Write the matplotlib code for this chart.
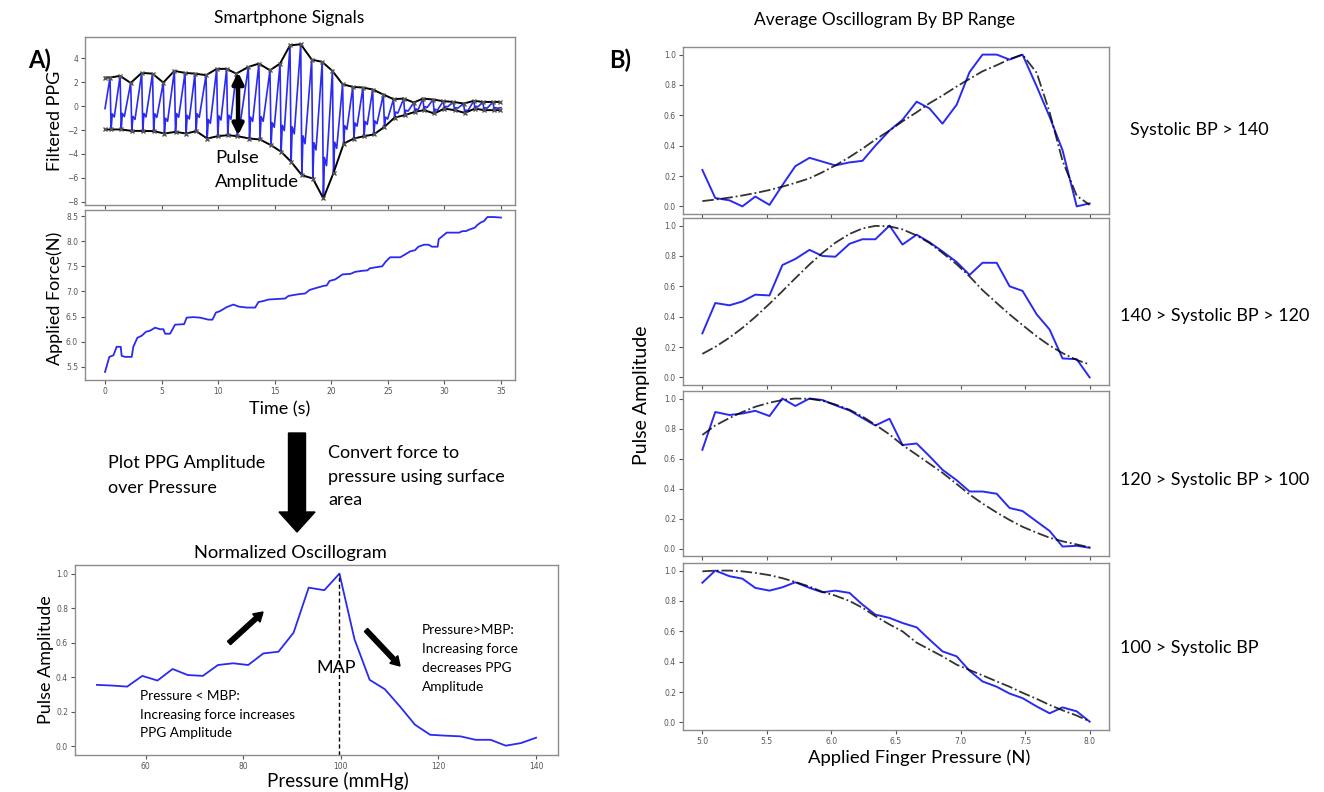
import numpy as np
import matplotlib
matplotlib.use("Agg")
import matplotlib.pyplot as plt
from matplotlib.patches import FancyArrow

# ---------------- DATA ----------------
# Panel A top: filtered PPG, read per beat (peak time, upper envelope, lower envelope)
BEAT_T = [0.44, 1.33, 2.27, 3.24, 4.2, 5.15, 6.13, 7.07, 7.95, 8.93, 9.87, 10.75, 11.6,
          12.67, 13.6, 14.58, 15.47, 16.35, 17.3, 18.27, 19.2, 20.1, 21.0, 21.9, 22.8,
          23.66, 24.6, 25.5, 26.4, 27.3, 28.1, 29.0, 29.9, 30.8, 31.7, 32.6, 33.4, 34.3]
PPG_UPPER = [2.4, 2.54, 1.95, 2.79, 2.73, 1.98, 2.96, 2.79, 2.73, 2.6, 3.13, 3.13, 2.73,
             3.29, 3.57, 3.01, 3.57, 5.1, 5.19, 3.91, 3.71, 2.96, 1.84, 1.62, 1.56,
             1.40, 0.98, 0.59, 0.64, 0.31, 0.64, 0.56, 0.42, 0.36, 0.22, 0.45, 0.36, 0.36]
PPG_LOWER = [-1.95, -1.95, -2.07, -2.07, -2.09, -2.29, -2.15, -2.29, -2.09, -2.71, -2.51,
             -2.43, -2.51, -2.71, -2.79, -3.27, -3.82, -4.66, -5.78, -6.06, -7.73, -5.58,
             -3.13, -2.71, -2.51, -2.37, -1.73, -0.95, -0.75, -0.47, -0.33, -0.61, -0.2,
             -0.33, -0.56, -0.2, -0.33, -0.33]
PPG_START = -0.2

# Panel A middle: applied force vs time
FORCE_T = [0, 0.38, 0.74, 1.03, 1.39, 1.47, 1.77, 2.36, 2.5, 2.86, 3.24, 3.63, 3.98, 4.42,
           4.87, 5.16, 5.31, 5.75, 6.19, 6.99, 7.22, 7.81, 8.4, 9.14, 9.5, 9.8, 10.17,
           10.76, 11.35, 11.8, 12.53, 13.27, 13.56, 14.0, 14.45, 15.18, 15.92, 16.2, 16.67,
           17.25, 17.69, 18.08, 18.67, 19.3, 19.6, 19.85, 20.35, 21.0, 21.7, 22.1, 22.7,
           23.2, 23.4, 23.9, 24.5, 24.8, 25.2, 26.1, 26.7, 27.0, 27.4, 27.7, 28.2, 28.6,
           28.9, 29.4, 29.5, 29.93, 30.2, 31.3, 31.6, 31.9, 32.2, 32.7, 32.9, 33.2, 33.5,
           33.8, 34.35, 35.0]
FORCE_N = [5.40, 5.70, 5.73, 5.90, 5.90, 5.72, 5.70, 5.70, 5.90, 6.08, 6.12, 6.20, 6.22,
           6.28, 6.25, 6.25, 6.16, 6.16, 6.34, 6.35, 6.48, 6.49, 6.48, 6.44, 6.44, 6.58,
           6.61, 6.69, 6.74, 6.70, 6.68, 6.68, 6.79, 6.81, 6.84, 6.85, 6.86, 6.91, 6.93,
           6.95, 6.96, 7.03, 7.07, 7.11, 7.12, 7.21, 7.24, 7.34, 7.35, 7.39, 7.41, 7.42,
           7.46, 7.48, 7.50, 7.59, 7.68, 7.68, 7.76, 7.80, 7.82, 7.89, 7.93, 7.93, 7.89,
           7.89, 8.04, 8.12, 8.17, 8.17, 8.20, 8.20, 8.23, 8.27, 8.32, 8.37, 8.40, 8.48,
           8.48, 8.47]

# Panel A bottom: normalized oscillogram
PRESSURE_MMHG = [50.0, 53.1, 56.2, 59.3, 62.4, 65.5, 68.6, 71.7, 74.8, 77.9, 81.0, 84.1,
                 87.2, 90.3, 93.4, 96.6, 99.7, 102.8, 105.9, 109.0, 112.1, 115.2, 118.3,
                 121.4, 124.5, 127.6, 130.7, 133.8, 136.9, 140.0]
OSC_AMP = [0.356, 0.352, 0.346, 0.408, 0.381, 0.448, 0.413, 0.408, 0.471, 0.481, 0.471,
           0.538, 0.548, 0.658, 0.919, 0.904, 1.0, 0.619, 0.385, 0.331, 0.231, 0.125,
           0.067, 0.062, 0.058, 0.038, 0.038, 0.004, 0.019, 0.05]

# Panel B: average oscillograms by BP range
FINGER_P = [5.00, 5.10, 5.21, 5.31, 5.41, 5.52, 5.62, 5.72, 5.83, 5.93, 6.03, 6.14, 6.24,
            6.34, 6.45, 6.55, 6.66, 6.76, 6.86, 6.97, 7.07, 7.17, 7.28, 7.38, 7.48, 7.59,
            7.69, 7.79, 7.90, 8.00]
BP_LABELS = ["Systolic BP > 140", "140 > Systolic BP > 120",
             "120 > Systolic BP > 100", "100 > Systolic BP"]
AVG_GT140 = [0.24, 0.055, 0.04, 0.0, 0.065, 0.01, 0.14, 0.265, 0.32, 0.295, 0.27, 0.29,
             0.30, 0.40, 0.50, 0.57, 0.69, 0.645, 0.545, 0.67, 0.885, 1.0, 1.0, 0.967,
             1.0, 0.79, 0.59, 0.37, 0.0, 0.02]
FIT_GT140 = [0.035, 0.045, 0.058, 0.072, 0.088, 0.108, 0.13, 0.155, 0.185, 0.225, 0.27,
             0.325, 0.38, 0.44, 0.50, 0.56, 0.62, 0.68, 0.73, 0.79, 0.84, 0.89, 0.93,
             0.97, 1.0, 0.88, 0.62, 0.30, 0.07, 0.01]
AVG_120_140 = [0.29, 0.49, 0.475, 0.50, 0.545, 0.54, 0.74, 0.78, 0.84, 0.80, 0.795, 0.88,
               0.91, 0.91, 1.0, 0.875, 0.94, 0.89, 0.83, 0.76, 0.675, 0.755, 0.755, 0.60,
               0.57, 0.415, 0.315, 0.125, 0.12, 0.0]
FIT_120_140 = [0.155, 0.201, 0.262, 0.326, 0.398, 0.485, 0.568, 0.653, 0.744, 0.820,
               0.887, 0.945, 0.981, 0.998, 0.995, 0.975, 0.935, 0.885, 0.82, 0.745,
               0.665, 0.575, 0.49, 0.415, 0.345, 0.27, 0.21, 0.16, 0.115, 0.085]
AVG_100_120 = [0.658, 0.91, 0.89, 0.90, 0.918, 0.883, 1.0, 0.95, 1.0, 0.99, 0.955, 0.92,
               0.87, 0.82, 0.865, 0.69, 0.70, 0.615, 0.525, 0.455, 0.38, 0.38, 0.365,
               0.27, 0.25, 0.18, 0.117, 0.013, 0.018, 0.005]
FIT_100_120 = [0.757, 0.82, 0.87, 0.91, 0.945, 0.972, 0.99, 1.0, 0.998, 0.985, 0.96,
               0.925, 0.88, 0.825, 0.76, 0.69, 0.625, 0.565, 0.505, 0.43, 0.36, 0.30,
               0.24, 0.19, 0.145, 0.105, 0.072, 0.048, 0.027, 0.008]
AVG_LT100 = [0.92, 1.0, 0.963, 0.947, 0.886, 0.868, 0.89, 0.923, 0.886, 0.857, 0.868,
             0.853, 0.776, 0.71, 0.688, 0.655, 0.626, 0.545, 0.468, 0.435, 0.34, 0.27,
             0.235, 0.19, 0.16, 0.105, 0.06, 0.099, 0.073, 0.005]
FIT_LT100 = [0.995, 1.0, 1.0, 0.995, 0.985, 0.97, 0.95, 0.925, 0.895, 0.86, 0.835, 0.80,
             0.755, 0.70, 0.645, 0.60, 0.525, 0.48, 0.435, 0.38, 0.345, 0.31, 0.27, 0.235,
             0.195, 0.155, 0.115, 0.08, 0.045, 0.007]

# ---------------- FIGURE ----------------
W, H = 1324, 792
fig = plt.figure(figsize=(W / 100, H / 100), dpi=100)
FONT = ["Lato", "DejaVu Sans"]
BLUE = "#2a2af0"
SPINE = "#8c8c8c"


def ax_px(l, t, r, b):
    return fig.add_axes([l / W, 1 - b / H, (r - l) / W, (b - t) / H])


def style(ax):
    for s in ax.spines.values():
        s.set_color(SPINE)
        s.set_linewidth(1.0)
    ax.tick_params(labelsize=5.5, colors="#555555", length=3, width=0.8, pad=2)


# --- A top: filtered PPG ---
ax1 = ax_px(85, 37, 515, 205)
bt = np.array(BEAT_T)
up = np.array(PPG_UPPER)
lo = np.array(PPG_LOWER)
# pulse shape: peak -> steep drop to trough -> dicrotic notch -> rise to next peak
wx, wy = [0.0], [PPG_START]
for k in range(len(bt)):
    rng = up[k] - lo[k]
    wx += [bt[k], bt[k] + 0.1, bt[k] + 0.2, bt[k] + 0.38]
    wy += [up[k], lo[k], lo[k] + 0.3 * rng, lo[k] + 0.24 * rng]
wx.append(35.0)
wy.append(lo[-1] + 0.3 * (up[-1] - lo[-1]))
ax1.plot(wx, wy, color=BLUE, lw=1.2, zorder=2)
ax1.plot(np.r_[0.0, bt, 34.9], np.r_[up[0], up, up[-1]], color="black", lw=1.4,
         marker="x", ms=3.5, mec="#555555", zorder=3)
ax1.plot(np.r_[0.0, bt + 0.1, 34.9], np.r_[lo[0], lo, lo[-1]], color="black", lw=1.4,
         marker="x", ms=3.5, mec="#555555", zorder=3)
ax1.annotate("", xy=(11.76, 2.85), xytext=(11.76, -2.45),
             arrowprops=dict(arrowstyle="<|-|>", lw=3.2, color="black",
                             mutation_scale=16, shrinkA=0, shrinkB=0), zorder=4)
ax1.text(9.72, -4.38, "Pulse", fontsize=13.3, family=FONT, va="center", ha="left")
ax1.text(9.72, -6.34, "Amplitude", fontsize=13.3, family=FONT, va="center", ha="left")
ax1.set_xlim(-1.77, 36.24)
ax1.set_ylim(-8.28, 5.8)
ax1.set_yticks([-8, -6, -4, -2, 0, 2, 4])
ax1.set_xticks(range(0, 36, 5))
ax1.set_xticklabels([])
style(ax1)

# --- A middle: applied force ---
ax2 = ax_px(85, 210, 515, 380)
ax2.plot(FORCE_T, FORCE_N, color=BLUE, lw=1.3)
ax2.set_xlim(-1.77, 36.24)
ax2.set_ylim(5.24, 8.62)
ax2.set_yticks([5.5, 6.0, 6.5, 7.0, 7.5, 8.0, 8.5])
ax2.set_xticks(range(0, 36, 5))
style(ax2)

# --- A bottom: normalized oscillogram ---
ax3 = ax_px(75, 565, 558, 755)
ax3.plot(PRESSURE_MMHG, OSC_AMP, color=BLUE, lw=1.3)
ax3.set_xlim(45.5, 144.5)
ax3.set_ylim(-0.05, 1.05)
imax = int(np.argmax(OSC_AMP))
ax3.vlines(PRESSURE_MMHG[imax], -0.05, OSC_AMP[imax], colors="black", lw=1.0,
           linestyles=(0, (3, 2)))
ax3.set_yticks([0.0, 0.2, 0.4, 0.6, 0.8, 1.0])
ax3.set_xticks([60, 80, 100, 120, 140])
style(ax3)

# --- B panels ---
rows = [(47, 214), (218, 385), (391, 556), (563, 730)]
series = [(AVG_GT140, FIT_GT140), (AVG_120_140, FIT_120_140),
          (AVG_100_120, FIT_100_120), (AVG_LT100, FIT_LT100)]
for i, ((t, b), (avg, fit)) in enumerate(zip(rows, series)):
    ax = ax_px(683, t, 1109, b)
    ax.plot(FINGER_P, avg, color=BLUE, lw=1.4, zorder=2)
    ax.plot(FINGER_P, fit, color="black", lw=1.3, ls="-.", alpha=0.8, zorder=3)
    ax.set_xlim(4.85, 8.15)
    ax.set_ylim(-0.05, 1.05)
    ax.set_yticks([0.0, 0.2, 0.4, 0.6, 0.8, 1.0])
    ax.set_xticks([5.0, 5.5, 6.0, 6.5, 7.0, 7.5, 8.0])
    if i < 3:
        ax.set_xticklabels([])
    style(ax)

# --- overlay for annotations in pixel coordinates ---
ov = fig.add_axes([0, 0, 1, 1])
ov.set_xlim(0, W)
ov.set_ylim(H, 0)
ov.axis("off")


def txt(x, y, s, size=12, ha="center", va="center", rot=0, weight="normal"):
    ov.text(x, y, s, fontsize=size, family=FONT, ha=ha, va=va, rotation=rot,
            fontweight=weight)


txt(289, 18, "Smartphone Signals", 12.5)
txt(885, 20, "Average Oscillogram By BP Range", 12.5)
txt(40, 60, "A)", 17, weight="bold")
txt(620, 60, "B)", 17, weight="bold")
txt(55, 121, "Filtered PPG", 13, rot=90)
txt(55, 298, "Applied Force(N)", 13, rot=90)
txt(280, 409, "Time (s)", 13)
txt(108, 463, "Plot PPG Amplitude", 13, ha="left")
txt(108, 488, "over Pressure", 13, ha="left")
txt(328, 453, "Convert force to", 13, ha="left")
txt(328, 477, "pressure using surface", 13, ha="left")
txt(328, 500, "area", 13, ha="left")
ov.add_patch(FancyArrow(297, 433, 0, 99, width=17, head_width=36, head_length=20,
                        length_includes_head=True, color="black"))
txt(290, 553, "Normalized Oscillogram", 13.2)
txt(46, 660, "Pulse Amplitude", 13, rot=90)
txt(338, 781, "Pressure (mmHg)", 13.5)
txt(336, 668, "MAP", 13)
txt(140, 696, "Pressure < MBP:", 9.8, ha="left")
txt(140, 715, "Increasing force increases", 9.8, ha="left")
txt(140, 733, "PPG Amplitude", 9.8, ha="left")
txt(422, 630, "Pressure>MBP:", 9.8, ha="left")
txt(422, 649, "Increasing force", 9.8, ha="left")
txt(422, 668, "decreases PPG", 9.8, ha="left")
txt(422, 687, "Amplitude", 9.8, ha="left")
ov.add_patch(FancyArrow(229, 643, 34, -31, width=4.5, head_width=11, head_length=9,
                        length_includes_head=True, color="black"))
ov.add_patch(FancyArrow(366, 630, 34, 36, width=4.5, head_width=11, head_length=9,
                        length_includes_head=True, color="black"))
txt(641, 395, "Pulse Amplitude", 14, rot=90)
txt(919, 758, "Applied Finger Pressure (N)", 13.3)
txt(1130, 130, BP_LABELS[0], 13, ha="left")
txt(1120, 316, BP_LABELS[1], 13, ha="left")
txt(1120, 480, BP_LABELS[2], 13, ha="left")
txt(1120, 648, BP_LABELS[3], 13, ha="left")

fig.savefig("out.png", dpi=100, facecolor="white")
